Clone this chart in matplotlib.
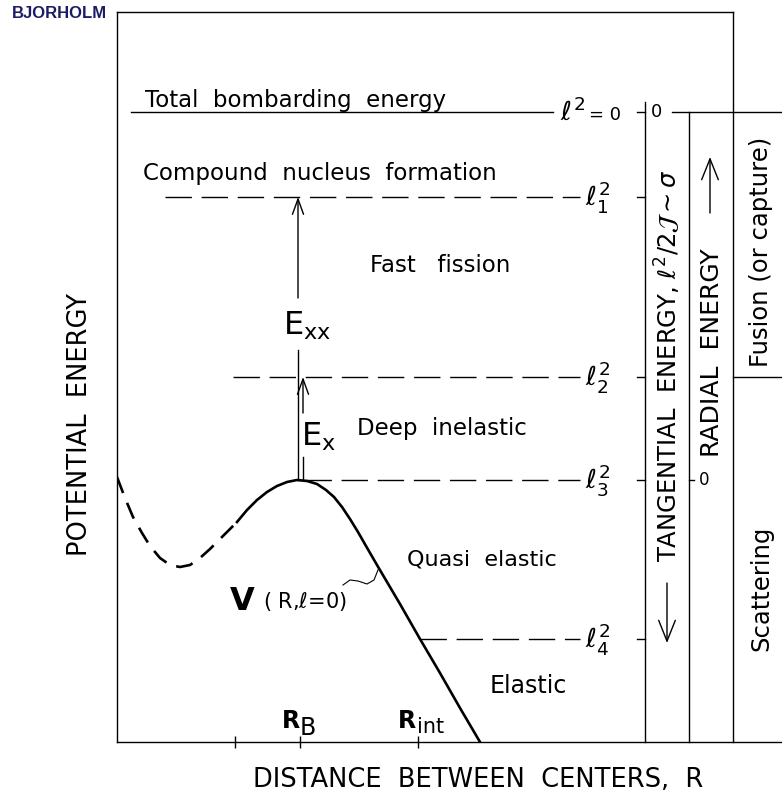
import matplotlib.pyplot as plt

# V(R, l=0): inner (dashed, not well known) and outer (solid) branches
r_inner = [0.0, 0.8, 1.6, 2.5, 3.3, 4.3, 5.3, 6.3, 7.3, 8.3, 9.3, 10.3, 11.1, 12.0]
v_inner = [26.5, 24.4, 22.5, 20.9, 19.6, 18.4, 17.7, 17.5, 17.7, 18.4, 19.3, 20.3, 21.1, 22.0]
r_outer = [12.0, 13.0, 14.0, 15.0, 16.0, 17.0, 18.0, 19.0, 20.0, 20.9, 21.7,
           22.5, 23.3, 24.1, 24.9, 26.0, 28.3, 30.3, 32.3, 34.3, 36.3]
v_outer = [22.0, 23.2, 24.2, 25.0, 25.6, 26.0, 26.2, 26.1, 25.8, 25.2, 24.5,
           23.5, 22.3, 21.0, 19.6, 17.7, 13.8, 10.3, 6.9, 3.4, 0.0]

# energy levels l^2 = 0, l1^2 ... l4^2 and where each line starts
level_energy = [63.0, 54.5, 36.5, 26.2, 10.3]
level_start = [1.4, 4.8, 11.6, 18.8, 30.3]
level_end = [43.6, 46.3, 46.3, 46.3, 46.3]
level_labels = [r"$\ell^2$", r"$\ell_1^2$", r"$\ell_2^2$", r"$\ell_3^2$", r"$\ell_4^2$"]

# distance ticks: unlabeled, R_B, R_int
r_ticks = [11.8, 18.3, 30.1]

# connector from the V label to the curve
wave_r = [22.6, 23.3, 24.1, 25.0, 25.7, 26.1]
wave_v = [15.7, 16.2, 16.1, 15.8, 16.2, 17.2]

# region names: (text, left R, baseline energy, size)
regions = [
    ("Total  bombarding  energy", 2.8, 63.5, 16.5),
    ("Compound  nucleus  formation", 2.6, 56.2, 16.5),
    ("Fast   fission", 25.3, 47.0, 16.5),
    ("Deep  inelastic", 24.0, 30.7, 16.5),
    ("Quasi  elastic", 29.0, 17.7, 16),
    ("Elastic", 37.3, 4.9, 17),
]

# right-hand scale columns
x_l2_axis = 52.8
x_radial = 57.2
x_split = 61.6
x_max = 66.5
y_max = 73.0

plt.rcParams["font.family"] = "DejaVu Sans"
plt.rcParams["mathtext.fontset"] = "dejavusans"

fig = plt.figure(figsize=(7.82, 7.95), dpi=100)
ax = fig.add_axes([117 / 782, 53 / 795, 665 / 782, 730 / 795])
ax.set_xlim(0, x_max)
ax.set_ylim(0, y_max)
for side in ("top", "right"):
    ax.spines[side].set_visible(False)
for side in ("left", "bottom"):
    ax.spines[side].set_linewidth(1.0)
ax.set_yticks([])
ax.set_xticks(r_ticks)
ax.set_xticklabels([])
ax.tick_params(axis="x", direction="inout", length=9, width=1.0)

k = dict(color="black", clip_on=False)

# frame top and right-hand columns
ax.plot([0, x_split], [y_max, y_max], lw=1.0, **k)
ax.plot([x_split, x_split], [0, y_max], lw=1.0, **k)
ax.plot([x_split, x_max], [level_energy[2], level_energy[2]], lw=1.0, **k)
ax.plot([x_l2_axis, x_l2_axis], [0, level_energy[0] + 1.0], lw=1.0, **k)
ax.plot([x_radial, x_radial], [0, level_energy[0]], lw=1.0, **k)
ax.plot([x_radial - 1.7, x_max], [level_energy[0], level_energy[0]], lw=1.0, **k)
ax.plot([x_radial, x_radial + 0.5], [level_energy[3], level_energy[3]], lw=1.0, **k)
ax.text(x_radial + 1.0, level_energy[3], "0", fontsize=12, va="center", ha="left")
ax.text(x_l2_axis + 0.6, level_energy[0], "0", fontsize=13, va="center", ha="left")

# potential curve
ax.plot(r_inner, v_inner, color="black", lw=1.9, dashes=(6.5, 4), solid_capstyle="butt")
ax.plot(r_outer, v_outer, color="black", lw=1.9, solid_joinstyle="round")
ax.plot(wave_r, wave_v, color="black", lw=0.8)

# energy levels with l^2 labels and ticks on the l^2 scale
for i, (e, x0, x1, lab) in enumerate(zip(level_energy, level_start, level_end, level_labels)):
    if i == 0:
        ax.plot([x0, x1], [e, e], color="black", lw=1.0)
        ax.text(x1 + 0.7, e, lab, fontsize=19, va="center", ha="left")
        ax.text(47.2, e - 0.3, "= 0", fontsize=13, va="center", ha="left")
    else:
        ax.plot([x0, x1], [e, e], color="black", lw=1.0, dashes=(19, 7))
        ax.text(x1 + 0.5, e, lab, fontsize=19, va="center", ha="left")
    ax.plot([x_l2_axis - 0.8, x_l2_axis], [e, e], color="black", lw=1.0)

for text, x, y, size in regions:
    ax.text(x, y, text, fontsize=size, ha="left", va="baseline")

# excitation energy arrows
arrow_e = dict(arrowstyle="->,head_length=1.1,head_width=0.4", lw=1.0,
               shrinkA=0, shrinkB=0, color="black")
ax.annotate("", xy=(18.1, level_energy[1]), xytext=(18.1, 44.4), arrowprops=arrow_e)
ax.plot([18.1, 18.1], [level_energy[3], 39.2], color="black", lw=1.0)
ax.annotate("", xy=(18.6, level_energy[2]), xytext=(18.6, 32.9), arrowprops=arrow_e)
ax.plot([18.6, 18.6], [level_energy[3], 28.5], color="black", lw=1.0)
ax.text(16.6, 40.7, r"E$_{\mathregular{xx}}$", fontsize=23, ha="left", va="baseline")
ax.text(18.4, 29.6, r"E$_{\mathregular{x}}$", fontsize=23, ha="left", va="baseline")

# curve and distance labels
ax.text(11.3, 13.2, "V", fontsize=23, fontweight="bold", ha="left", va="baseline")
ax.text(14.6, 13.4, r"( R,$\ell$=0)", fontsize=15, ha="left", va="baseline")
ax.text(16.5, 1.4, "R", fontsize=17, fontweight="bold", ha="left", va="baseline")
ax.text(18.3, 0.7, "B", fontsize=17, ha="left", va="baseline")
ax.text(28.1, 1.4, "R", fontsize=17, fontweight="bold", ha="left", va="baseline")
ax.text(30.0, 0.9, "int", fontsize=15, ha="left", va="baseline")

# column titles
ax.text(55.1, 37.6, r"TANGENTIAL  ENERGY, $\ell^2/2\mathcal{J}\sim\sigma$",
        fontsize=17.5, rotation=90, ha="center", va="center", clip_on=False)
ax.annotate("", xy=(55.0, 9.9), xytext=(55.0, 15.9),
            arrowprops=dict(arrowstyle="->,head_length=1.5,head_width=0.6", lw=1.0,
                            shrinkA=0, shrinkB=0, color="black"), annotation_clip=False)
ax.text(59.5, 38.9, "RADIAL  ENERGY", fontsize=18, rotation=90,
        ha="center", va="center", clip_on=False)
ax.annotate("", xy=(59.3, 58.5), xytext=(59.3, 52.9),
            arrowprops=dict(arrowstyle="->,head_length=1.5,head_width=0.6", lw=1.0,
                            shrinkA=0, shrinkB=0, color="black"), annotation_clip=False)
ax.text(64.4, 49.0, "Fusion (or capture)", fontsize=17.5, rotation=90,
        ha="center", va="center", clip_on=False)
ax.text(64.4, 15.4, "Scattering", fontsize=17.5, rotation=90,
        ha="center", va="center", clip_on=False)

# axis titles
ax.text(-3.7, 31.7, "POTENTIAL  ENERGY", fontsize=18.5, rotation=90,
        ha="center", va="center", clip_on=False)
ax.text(36.1, -3.8, "DISTANCE  BETWEEN  CENTERS,  R", fontsize=18.5,
        ha="center", va="center", clip_on=False)

fig.text(12 / 782, 1 - 14 / 795, "BJORHOLM", fontsize=12, fontweight="bold",
         family="Liberation Sans", color="#1c1c66", ha="left", va="center")

fig.savefig("out.png", dpi=100)
